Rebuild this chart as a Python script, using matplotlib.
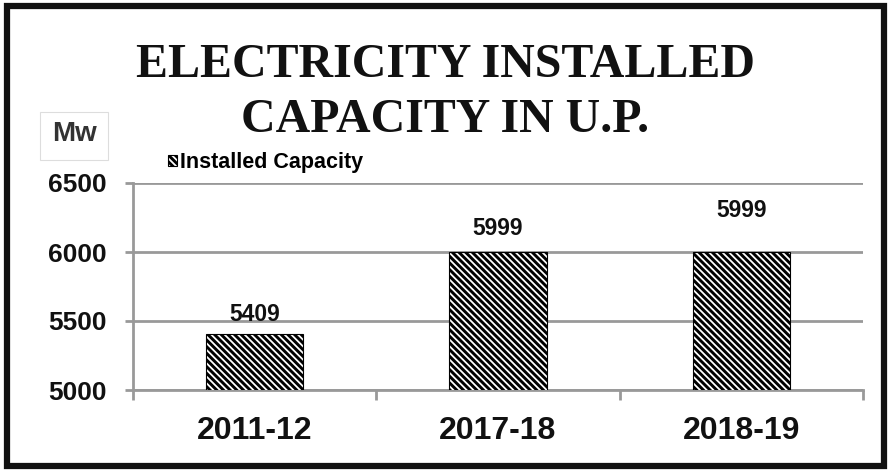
import matplotlib.pyplot as plt
import matplotlib.patches as mpatches
import numpy as np

# данные
years = ['2011-12', '2017-18', '2018-19']
capacity = [5409, 5999, 5999]
yticks = [5000, 5500, 6000, 6500]
label_lift = [14, 17, 30]  # подпись над столбцом, pt

plt.rcParams['hatch.linewidth'] = 2.1
W, H = 894, 470
fig = plt.figure(figsize=(W / 100, H / 100), dpi=100)
ax = fig.add_axes([133 / W, 80 / H, (863 - 133) / W, (390 - 183) / H])

x = np.arange(len(years))
bars = ax.bar(x, capacity, width=0.4, bottom=0, color='white',
              edgecolor='black', linewidth=0.8, hatch='\\\\\\\\\\',
              label='Installed Capacity', zorder=3)

for xi, v, lift in zip(x, capacity, label_lift):
    ax.annotate(str(v), (xi, v), xytext=(0, lift), textcoords='offset points',
                ha='center', va='center', fontsize=16.5, fontweight='bold',
                family='Liberation Sans', color='#111111')

ax.set_ylim(5000, 6500)
ax.set_xlim(-0.5, len(years) - 0.5)
ax.set_yticks(yticks)
ax.set_yticklabels([str(t) for t in yticks], fontsize=19, fontweight='bold',
                   family='Liberation Sans', color='#111111')
ax.set_xticks(x)
ax.set_xticklabels(years, fontsize=23, fontweight='bold',
                   family='Liberation Sans', color='#111111')
ax.set_xticks(np.arange(len(years) + 1) - 0.5, minor=True)
ax.tick_params(axis='x', which='major', length=0, pad=18.5)
ax.tick_params(axis='x', which='minor', length=7, width=2, color='#999999')
ax.tick_params(axis='y', length=6, width=2, color='#999999', pad=13)
ax.grid(axis='y', color='#999999', linewidth=2, zorder=0)
for s in ['top', 'right']:
    ax.spines[s].set_visible(False)
for s in ['left', 'bottom']:
    ax.spines[s].set_color('#999999')
    ax.spines[s].set_linewidth(2)

# заголовок
fig.text(445 / W, 1 - 65 / H, 'ELECTRICITY INSTALLED', ha='center', va='center',
         fontsize=34.5, fontweight='bold', family='Liberation Serif', color='#111111')
fig.text(445 / W, 1 - 120 / H, 'CAPACITY IN U.P.', ha='center', va='center',
         fontsize=34.5, fontweight='bold', family='Liberation Serif', color='#111111')

# единицы
fig.patches.append(mpatches.Rectangle((40 / W, 1 - 160 / H), 68 / W, 48 / H,
                                      transform=fig.transFigure, fc='white',
                                      ec='#dddddd', lw=0.8))
fig.text(75 / W, 1 - 134 / H, 'Mw', ha='center', va='center', fontsize=20,
         fontweight='bold', family='Liberation Sans', color='#333333')

# легенда
ax.legend(loc='lower left', bbox_to_anchor=(157 / W, 1 - 184 / H),
          bbox_transform=fig.transFigure, frameon=False, handlelength=0.45,
          handleheight=0.45, handletextpad=0.1, borderpad=0,
          prop={'family': 'Liberation Sans', 'weight': 'bold', 'size': 15.5})

# рамка
fig.patches.append(mpatches.Rectangle((6.5 / W, 4 / H), (883.5 - 6.5) / W, (464 - 4) / H,
                                      transform=fig.transFigure, fill=False,
                                      edgecolor='#111111', linewidth=4.5))

plt.savefig('out.png', dpi=100)
